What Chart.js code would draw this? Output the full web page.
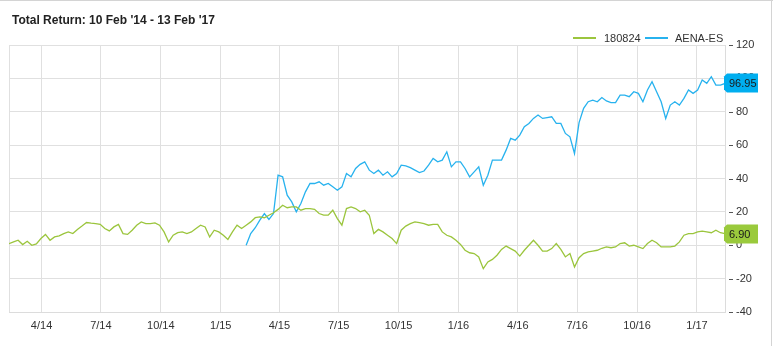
<!DOCTYPE html>
<html>
<head>
<meta charset="utf-8">
<script src="https://cdn.jsdelivr.net/npm/chart.js@4.4.1/dist/chart.umd.min.js"></script>
<style>
  html, body { margin: 0; padding: 0; background: #fff; }
  body { width: 773px; height: 346px; position: relative; overflow: hidden;
         font-family: Arial, "Liberation Sans", sans-serif; color: #333; }
  #chart { position: absolute; left: 0; top: 0; }
  .edge { position: absolute; background: #d4d4d4; }
  #title { position: absolute; left: 12px; top: 14px; font-size: 12px; line-height: 12px;
           font-weight: bold; color: #222; white-space: nowrap; }
  .lg-line { position: absolute; top: 37px; width: 23px; height: 2px; }
  .lg-text { position: absolute; top: 32px; font-size: 11px; line-height: 13px; color: #333; }
</style>
</head>
<body>
<canvas id="chart" width="773" height="346"></canvas>
<div class="edge" style="left:0;top:0;width:773px;height:1px"></div>
<div class="edge" style="left:771px;top:0;width:1px;height:346px"></div>
<div id="title">Total Return: 10 Feb '14 - 13 Feb '17</div>
<div class="lg-line" style="left:573px;background:#9bc53d"></div>
<div class="lg-text" style="left:604px">180824</div>
<div class="lg-line" style="left:645px;background:#27b2ee"></div>
<div class="lg-text" style="left:675px">AENA-ES</div>

<script>
// weekly closes, total return in %
const dates = [
  '2014-02-10','2014-02-17','2014-02-24','2014-03-03','2014-03-10','2014-03-17','2014-03-24','2014-03-31',
  '2014-04-07','2014-04-14','2014-04-21','2014-04-28','2014-05-05','2014-05-12','2014-05-19','2014-05-26',
  '2014-06-02','2014-06-09','2014-06-16','2014-06-23','2014-06-30','2014-07-07','2014-07-14','2014-07-21',
  '2014-07-28','2014-08-04','2014-08-11','2014-08-18','2014-08-25','2014-09-01','2014-09-08','2014-09-15',
  '2014-09-22','2014-09-29','2014-10-06','2014-10-13','2014-10-20','2014-10-27','2014-11-03','2014-11-10',
  '2014-11-17','2014-11-24','2014-12-01','2014-12-08','2014-12-15','2014-12-22','2014-12-29',
  '2015-01-05','2015-01-12','2015-01-19','2015-01-26','2015-02-02','2015-02-09','2015-02-16','2015-02-23',
  '2015-03-02','2015-03-09','2015-03-16','2015-03-23','2015-03-30','2015-04-06','2015-04-13','2015-04-20',
  '2015-04-27','2015-05-04','2015-05-11','2015-05-18','2015-05-25','2015-06-01','2015-06-08','2015-06-15',
  '2015-06-22','2015-06-29','2015-07-06','2015-07-13','2015-07-20','2015-07-27','2015-08-03','2015-08-10',
  '2015-08-17','2015-08-24','2015-08-31','2015-09-07','2015-09-14','2015-09-21','2015-09-28','2015-10-05',
  '2015-10-12','2015-10-19','2015-10-26','2015-11-02','2015-11-09','2015-11-16','2015-11-23','2015-11-30',
  '2015-12-07','2015-12-14','2015-12-21','2015-12-28',
  '2016-01-04','2016-01-11','2016-01-18','2016-01-25','2016-02-01','2016-02-08','2016-02-15','2016-02-22',
  '2016-02-29','2016-03-07','2016-03-14','2016-03-21','2016-03-28','2016-04-04','2016-04-11','2016-04-18',
  '2016-04-25','2016-05-02','2016-05-09','2016-05-16','2016-05-23','2016-05-30','2016-06-06','2016-06-13',
  '2016-06-20','2016-06-27','2016-07-04','2016-07-11','2016-07-18','2016-07-25','2016-08-01','2016-08-08',
  '2016-08-15','2016-08-22','2016-08-29','2016-09-05','2016-09-12','2016-09-19','2016-09-26','2016-10-03',
  '2016-10-10','2016-10-17','2016-10-24','2016-10-31','2016-11-07','2016-11-14','2016-11-21','2016-11-28',
  '2016-12-05','2016-12-12','2016-12-19','2016-12-26',
  '2017-01-02','2017-01-09','2017-01-16','2017-01-23','2017-01-30','2017-02-06','2017-02-13'
];

const green = [
  1, 2, 3, 0.4, 2.4, 0, 0.8, 4, 6.5, 3,
  5, 5.6, 7, 8, 7, 9.5, 11.5, 13.6, 13.2, 13,
  12.5, 10, 8.6, 11, 12.5, 7, 6.5, 9, 12, 14,
  13, 13, 13.4, 12, 8, 2, 6, 7.5, 8, 7,
  8, 10, 12, 11, 5, 9, 8, 6, 3.5, 8,
  12, 10, 12, 14, 16.5, 17, 16.5, 18, 19.5, 21.5,
  24, 22.5, 23, 23, 21, 22, 22, 21.5, 19, 18,
  18, 21, 16, 12, 22, 23, 22, 20, 21, 18,
  7, 9.5, 8, 6, 4, 1, 9, 11.5, 13, 14,
  13.5, 13, 12, 12.5, 12.5, 8, 6, 5, 3, 0.5,
  -3, -4.5, -5, -7, -14, -10, -8.5, -6, -2.5, -0.5,
  -2, -3.5, -6.5, -3, 0, 3, 0, -3.5, -3.5, -2,
  1, -2.5, -7, -5, -13, -7.5, -5, -4, -3.5, -3,
  -1.8, -1, -1.5, -1, 1, 1.5, -0.5, 0, -1, -2,
  1, 3, 1.5, -1, -1, -1, -0.5, 2, 6, 7,
  7, 8, 8.5, 8, 7.5, 9, 7.5, 6.9
];

// AENA listed Feb 2015
const blueStart = '2015-02-09';
const blue = [
  0, 7, 10.5, 15, 19, 15.5, 19, 42,
  41, 30, 26, 20, 25, 32, 37, 37, 38, 36,
  37, 35, 33, 35, 43, 41, 46, 48.5, 50, 45,
  43, 45, 42, 44, 41, 43, 48, 47.5, 46.5, 45,
  43.5, 44.5, 48, 52, 50, 51, 56, 47, 50, 50,
  46, 41, 44, 47, 36, 42, 51, 51, 51, 57,
  64, 63, 66, 71, 73, 76, 78, 76, 76.5, 77,
  73, 73, 67, 65, 55, 73.5, 82, 86, 87, 86,
  88.5, 86.5, 85.5, 85.5, 90, 90, 89, 92, 91, 86,
  93, 98, 92, 86, 76, 84, 86, 84, 88, 93,
  91, 93, 99, 97, 101, 96, 96, 96.95
];

const tickDates = ['2014-04-01','2014-07-01','2014-10-01','2015-01-01','2015-04-01','2015-07-01',
                   '2015-10-01','2016-01-01','2016-04-01','2016-07-01','2016-10-01','2017-01-01'];
const tickLabels = ['4/14','7/14','10/14','1/15','4/15','7/15','10/15','1/16','4/16','7/16','10/16','1/17'];

const tickTimes = tickDates.map(d => Date.parse(d));
const xMin = Date.parse(dates[0]);
const xMax = Date.parse(dates[dates.length - 1]);
const blueDates = dates.slice(dates.indexOf(blueStart));

// small dark dashes in front of the right axis labels
const axisDashes = {
  id: 'axisDashes',
  afterDraw(chart) {
    const ys = chart.scales.y;
    const ctx = chart.ctx;
    const x = chart.chartArea.right + 4;
    ctx.save();
    ctx.strokeStyle = '#555';
    ctx.lineWidth = 1;
    ys.ticks.forEach(t => {
      const py = Math.round(ys.getPixelForValue(t.value)) + 0.5;
      ctx.beginPath();
      ctx.moveTo(x, py);
      ctx.lineTo(x + 4, py);
      ctx.stroke();
    });
    ctx.restore();
  }
};

// value tags at the right edge
const lastTags = {
  id: 'lastTags',
  afterDraw(chart) {
    const ctx = chart.ctx;
    const ys = chart.scales.y;
    const x0 = chart.chartArea.right - 1, w = 34, h = 19;
    chart.data.datasets.forEach(ds => {
      const v = ds.data[ds.data.length - 1].y;
      const py = Math.round(ys.getPixelForValue(v));
      const t = py - h / 2, b = py + h / 2;
      ctx.save();
      ctx.fillStyle = ds.tagColor;
      ctx.beginPath();
      ctx.moveTo(x0, t + 3);
      ctx.lineTo(x0 + 3, t);
      ctx.lineTo(x0 + w, t);
      ctx.lineTo(x0 + w, b);
      ctx.lineTo(x0 + 3, b);
      ctx.lineTo(x0, b - 3);
      ctx.closePath();
      ctx.fill();
      ctx.fillStyle = '#1a1a1a';
      ctx.font = '11px Arial, "Liberation Sans", sans-serif';
      ctx.textBaseline = 'middle';
      ctx.fillText(v.toFixed(2), x0 + 5, py + 1);
      ctx.restore();
    });
  }
};

new Chart(document.getElementById('chart'), {
  type: 'line',
  data: {
    datasets: [
      {
        label: '180824',
        data: dates.map((d, i) => ({ x: Date.parse(d), y: green[i] })),
        borderColor: '#9bc53d',
        tagColor: '#9aca3c',
        borderWidth: 1.3,
        pointRadius: 0,
        tension: 0
      },
      {
        label: 'AENA-ES',
        data: blueDates.map((d, i) => ({ x: Date.parse(d), y: blue[i] })),
        borderColor: '#27b2ee',
        tagColor: '#00aeef',
        borderWidth: 1.3,
        pointRadius: 0,
        tension: 0
      }
    ]
  },
  options: {
    responsive: false,
    animation: false,
    layout: { padding: { top: 45, left: 9, right: 0, bottom: 0 } },
    plugins: {
      legend: { display: false },
      tooltip: { enabled: false }
    },
    scales: {
      x: {
        type: 'linear',
        min: xMin,
        max: xMax,
        afterBuildTicks(scale) {
          scale.ticks = [xMin, ...tickTimes, xMax].map(v => ({ value: v }));
        },
        afterFit(scale) { scale.height = 34; },
        grid: { color: '#e0e0e0', drawTicks: false },
        border: { color: '#dcdcdc' },
        ticks: {
          autoSkip: false,
          maxRotation: 0,
          padding: 7,
          color: '#333',
          font: { size: 11, family: 'Arial, "Liberation Sans", sans-serif' },
          callback(value) {
            const i = tickTimes.indexOf(value);
            return i >= 0 ? tickLabels[i] : '';
          }
        }
      },
      y: {
        position: 'right',
        min: -40,
        max: 120,
        afterFit(scale) { scale.width = 48; },
        grid: { color: '#e0e0e0', drawTicks: false },
        border: { color: '#dcdcdc' },
        ticks: {
          stepSize: 20,
          padding: 11,
          color: '#333',
          font: { size: 11, family: 'Arial, "Liberation Sans", sans-serif' }
        }
      }
    }
  },
  plugins: [axisDashes, lastTags]
});
</script>
</body>
</html>
